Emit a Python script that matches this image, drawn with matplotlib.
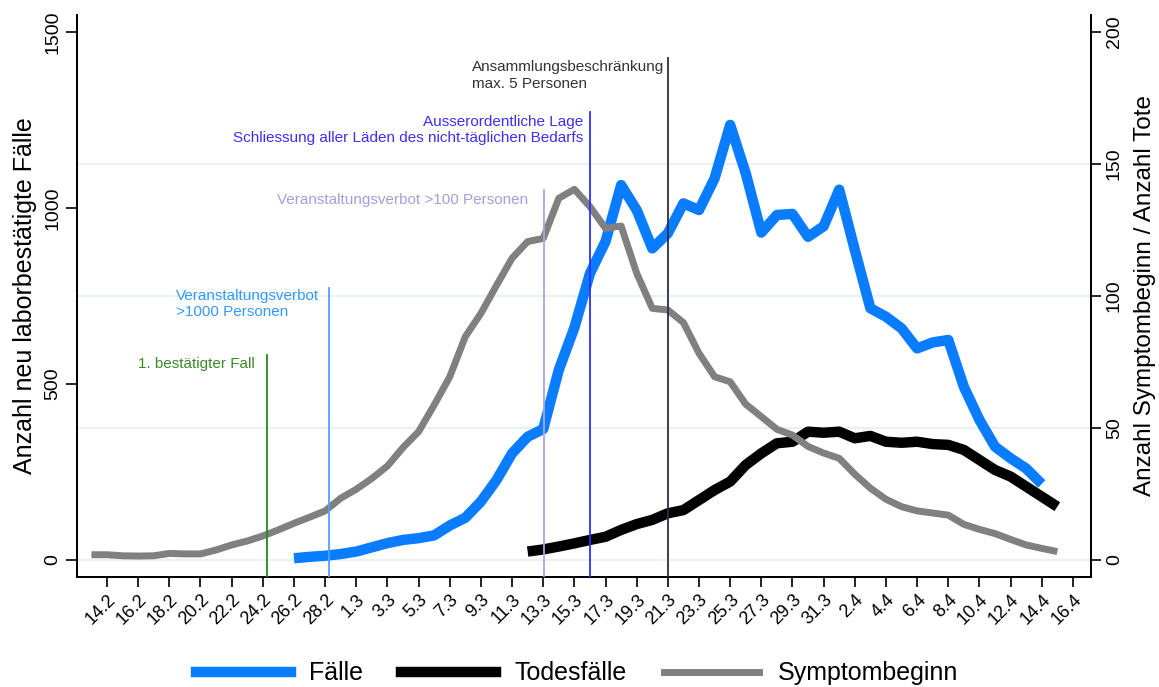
import numpy as np
import matplotlib
matplotlib.use("Agg")
import matplotlib.pyplot as plt
from matplotlib.lines import Line2D

plt.rcParams['font.family'] = ['Liberation Sans', 'DejaVu Sans']

# days counted from 14.2.2020
tick_days = list(range(0, 63, 2))
tick_labels = ['14.2', '16.2', '18.2', '20.2', '22.2', '24.2', '26.2', '28.2',
               '1.3', '3.3', '5.3', '7.3', '9.3', '11.3', '13.3', '15.3',
               '17.3', '19.3', '21.3', '23.3', '25.3', '27.3', '29.3', '31.3',
               '2.4', '4.4', '6.4', '8.4', '10.4', '12.4', '14.4', '16.4']

# Symptombeginn (right axis), day -1 .. 61
symp_days = list(range(-1, 62))
symptom = [2, 2, 1.6, 1.5, 1.6, 2.5, 2.3, 2.3, 3.8, 5.7, 7.2, 9.1, 11.4, 13.9,
           16.2, 18.6, 23.4, 26.8, 30.9, 35.6, 42.6, 48.6, 58.7, 69.4, 84.6,
           93.4, 104, 114.3, 120.6, 121.8, 137, 140.4, 133.8, 125.6, 126.5,
           108.6, 95.3, 94.7, 89.9, 78.3, 69.4, 67.5, 59, 54.3, 49.5, 47.3, 43,
           40.5, 38.5, 32.5, 27.2, 23, 20.2, 18.6, 17.8, 17, 13.5, 11.6, 10,
           7.8, 5.7, 4.4, 3.2]

# Faelle (left axis), day 12 .. 60
case_days = list(range(12, 61))
cases = [5, 9, 12, 17, 24, 36, 48, 57, 62, 70, 98, 120, 166, 227, 303, 350,
         372, 540, 660, 814, 905, 1065, 994, 885, 928, 1013, 994, 1084, 1236,
         1098, 930, 980, 983, 918, 948, 1052, 881, 715, 691, 658, 601, 618,
         625, 492, 398, 322, 289, 260, 216]

# Todesfaelle (right axis), day 27 .. 61
death_days = list(range(27, 62))
deaths = [3.2, 4.0, 5.1, 6.3, 7.6, 8.8, 11.4, 13.6, 15.2, 17.7, 18.9, 22.7,
          26.5, 29.7, 36, 40.4, 44.2, 44.8, 48.6, 48.2, 48.6, 46.1, 47, 44.8,
          44.4, 44.8, 43.9, 43.6, 41.7, 37.9, 34.1, 31.6, 27.8, 24, 20.2]

# events: day, top of line (left axis units)
event_days = [10.27, 14.25, 28.05, 31.0, 36.0]
event_tops = [582, 773, 1051, 1273, 1426]
event_colors = ['#1f8a1f', '#4da3ff', '#aaa6e2', '#2f2fff', '#2c2c48']

fig = plt.figure(figsize=(11.59, 6.87), dpi=100)
ax = fig.add_axes([0.0664, 0.1601, 0.8745, 0.8182])
ax2 = ax.twinx()

ylim1 = (-48.3, 1548.3)
ylim2 = (-6.44, 206.44)
ax.set_xlim(-1.93, 63.13)
ax.set_ylim(*ylim1)
ax2.set_ylim(*ylim2)

for g in [0, 50, 100, 150]:
    ax.axhline(g * 7.5, color='#e9f1f3', linewidth=1.6, zorder=0)

ax.plot(case_days, cases, color='#0a7cff', lw=7.5, solid_capstyle='butt',
        solid_joinstyle='round', zorder=3)
ax2.plot(death_days, deaths, color='black', lw=7.5, solid_capstyle='butt',
         solid_joinstyle='round', zorder=3)
ax2.plot(symp_days, symptom, color='#808080', lw=5, solid_capstyle='butt',
         solid_joinstyle='round', zorder=4)

for d, top, c in zip(event_days, event_tops, event_colors):
    frac = (top - ylim1[0]) / (ylim1[1] - ylim1[0])
    ax2.axvline(d, ymin=0, ymax=frac, color=c, lw=1.3, zorder=5)

fs_ann = 11
ax2.text(9.5, 556, '1. bestätigter Fall', color='#3a8a2a', fontsize=fs_ann,
         ha='right', va='center', transform=ax.transData)
ax2.text(4.43, 770, 'Veranstaltungsverbot\n>1000 Personen', color='#3399ff',
         fontsize=fs_ann, ha='left', va='top', linespacing=1.2,
         transform=ax.transData)
ax2.text(27.0, 1022, 'Veranstaltungsverbot >100 Personen', color='#a29fdc',
         fontsize=fs_ann, ha='right', va='center', transform=ax.transData)
ax2.text(30.55, 1265, 'Ausserordentliche Lage\nSchliessung aller Läden des nicht-täglichen Bedarfs',
         color='#3b30f0', fontsize=fs_ann, ha='right', va='top',
         multialignment='right', linespacing=1.2, transform=ax.transData)
ax2.text(23.43, 1419, 'Ansammlungsbeschränkung\nmax. 5 Personen', color='#333333',
         fontsize=fs_ann, ha='left', va='top', linespacing=1.2,
         transform=ax.transData)

ax.set_xticks(tick_days)
ax.set_xticklabels(tick_labels, rotation=45, ha='right', rotation_mode='anchor')
ax.tick_params(axis='x', length=7, width=1.2, labelsize=13, pad=3)
ax.set_yticks([0, 500, 1000, 1500])
ax.set_yticklabels(['0', '500', '1000', '1500'], rotation=90, va='center')
ax.tick_params(axis='y', length=8, width=1.2, labelsize=14, pad=3)
ax2.set_yticks([0, 50, 100, 150, 200])
ax2.set_yticklabels(['0', '50', '100', '150', '200'], rotation=90, va='center')
ax2.tick_params(axis='y', length=7, width=1.2, labelsize=14, pad=4)

for a in (ax, ax2):
    a.spines['top'].set_visible(False)
    for s in ('left', 'right', 'bottom'):
        a.spines[s].set_linewidth(1.3)

ax.set_ylabel('Anzahl neu laborbestätigte Fälle', fontsize=18)
ax.yaxis.set_label_coords(-0.0395, 0.5)
ax2.set_ylabel('Anzahl Symptombeginn / Anzahl Tote', fontsize=17.5)
ax2.yaxis.set_label_coords(1.043, 0.5)

handles = [Line2D([], [], color='#0a7cff', lw=7.5),
           Line2D([], [], color='black', lw=7.5),
           Line2D([], [], color='#808080', lw=5)]
fig.legend(handles, ['Fälle', 'Todesfälle', 'Symptombeginn'], loc='center',
           bbox_to_anchor=(0.498, 0.02), ncol=3, frameon=False, fontsize=18,
           handlelength=3.8, handletextpad=0.75, columnspacing=1.5,
           borderpad=0.2)

fig.savefig('out.png', dpi=100)
